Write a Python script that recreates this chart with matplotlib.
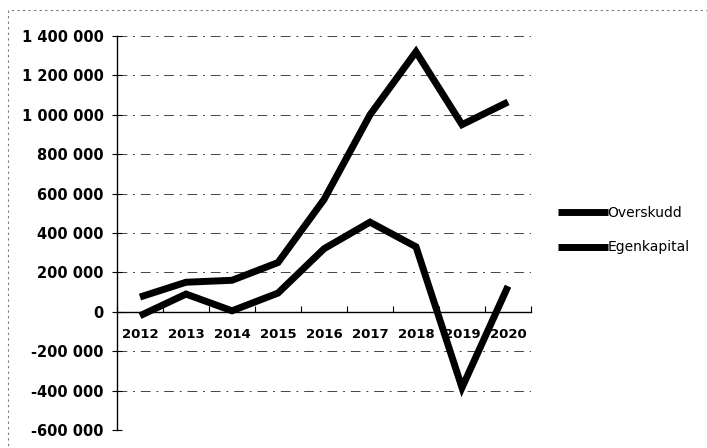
import numpy as np
import matplotlib.pyplot as plt
from matplotlib.patches import Rectangle
from matplotlib.ticker import FuncFormatter

years = ['2012', '2013', '2014', '2015', '2016', '2017', '2018', '2019', '2020']
overskudd = [-20000, 90000, 5000, 95000, 320000, 455000, 330000, -385000, 130000]
egenkapital = [75000, 150000, 160000, 250000, 570000, 1000000, 1320000, 950000, 1065000]
y_ticks = [-600000, -400000, -200000, 0, 200000, 400000, 600000, 800000,
           1000000, 1200000, 1400000]

plt.rcParams['font.family'] = ['DejaVu Sans']

fig = plt.figure(figsize=(7.07, 4.48), dpi=100)
ax = fig.add_axes([117/707, 1 - 430/448, (531 - 117)/707, (430 - 36)/448])

x = np.arange(len(years))
ax.plot(x, overskudd, color='black', lw=5, solid_capstyle='butt',
        solid_joinstyle='miter', label='Overskudd', zorder=4)
ax.plot(x, egenkapital, color='black', lw=5, solid_capstyle='butt',
        solid_joinstyle='miter', label='Egenkapital', zorder=4)

ax.set_xlim(-0.5, len(years) - 0.5)
ax.set_ylim(-600000, 1400000)

# gridlines (dash-dot, like the faded print)
for v in y_ticks:
    if v == 0:
        continue
    ax.axhline(v, color='#444444', lw=0.7, ls=(0, (10, 6, 2, 6)), zorder=1)

ax.set_yticks(y_ticks)
ax.yaxis.set_major_formatter(FuncFormatter(lambda v, p: f'{int(v):,}'.replace(',', ' ')))
ax.tick_params(axis='y', direction='inout', length=7, width=0.8, pad=6,
               labelsize=10.5)
for lab in ax.get_yticklabels():
    lab.set_fontweight('bold')

# category axis at zero
ax.spines['bottom'].set_position(('data', 0))
ax.spines['top'].set_visible(False)
ax.spines['right'].set_visible(False)
ax.spines['left'].set_linewidth(1.0)
ax.spines['bottom'].set_linewidth(1.0)
ax.set_xticks(np.arange(len(years) + 1) - 0.5)
ax.set_xticklabels([])
ax.set_xticks(x, minor=True)
ax.set_xticklabels(years, minor=True, fontsize=9.5, fontweight='bold')
ax.tick_params(axis='x', which='major', direction='in', length=4)
ax.tick_params(axis='x', which='minor', length=0, pad=12)

fig.legend(loc='center left', bbox_to_anchor=(545/707, 1 - 230/448),
           frameon=False, fontsize=10, handlelength=3.6, handletextpad=0.0,
           labelspacing=1.5)

# faint scan border
fig.patches.append(Rectangle((8/707, -0.1), 1.2, 1 - 10/448 + 0.1,
                             transform=fig.transFigure, fill=False,
                             ec='#777777', lw=0.8, ls=(0, (2, 3))))

fig.savefig('out.png', dpi=100)
